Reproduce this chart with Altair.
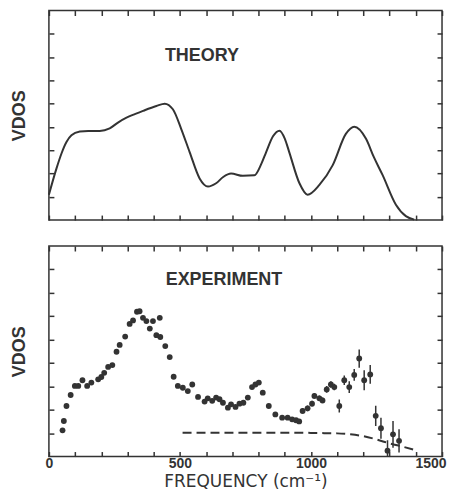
import altair as alt
import pandas as pd

# ---------------- data ----------------
theory_freq = [0, 29, 48, 67, 86, 118, 150, 194, 232, 265, 296, 330, 359, 410, 442, 473, 505, 537,
               575, 607, 638, 665, 695, 740, 784, 810, 829, 855, 880, 900, 917, 956, 987, 1032,
               1083, 1133, 1165, 1210, 1240, 1273, 1324, 1362, 1394]
theory_vdos = [1.09, 2.22, 2.86, 3.35, 3.64, 3.80, 3.83, 3.83, 3.94, 4.20, 4.40, 4.56, 4.69, 4.90,
               5.00, 4.76, 3.91, 2.92, 1.79, 1.44, 1.58, 1.85, 2.00, 1.90, 1.92, 2.40, 2.92, 3.60,
               3.84, 3.50, 2.92, 1.58, 1.09, 1.51, 2.36, 3.70, 4.01, 3.49, 2.70, 1.94, 0.66, 0.17, 0.02]

exp_freq = [52, 57, 67, 83, 99, 112, 128, 146, 162, 188, 200, 211, 226, 242, 258, 270, 291, 308,
            321, 336, 346, 359, 372, 385, 397, 410, 423, 425, 444, 461, 476, 492, 511, 530, 547,
            569, 594, 606, 623, 638, 651, 664, 683, 695, 712, 727, 742, 759, 775, 788, 801, 816,
            839, 864, 890, 911, 928, 943, 955, 968, 987, 1004, 1013, 1032, 1044, 1060, 1076,
            1089, 1108, 1127, 1146, 1165, 1184, 1203, 1226, 1247, 1267, 1292, 1313, 1336]
exp_vdos = [1.12, 1.52, 2.16, 2.63, 3.02, 3.02, 3.26, 3.02, 3.16, 3.30, 3.40, 3.58, 3.83, 3.91,
            4.48, 4.77, 5.13, 5.67, 5.82, 6.19, 6.21, 5.93, 5.79, 5.47, 5.79, 5.19, 5.93, 5.11,
            4.72, 4.25, 3.41, 3.02, 2.94, 2.80, 3.08, 2.55, 2.35, 2.49, 2.38, 2.52, 2.45, 2.30,
            2.09, 2.23, 2.12, 2.26, 2.30, 2.52, 2.97, 3.08, 3.16, 2.73, 2.16, 1.80, 1.66, 1.66,
            1.59, 1.55, 1.50, 1.95, 2.06, 2.26, 2.59, 2.49, 2.40, 2.87, 3.08, 2.97, 2.16, 3.26,
            2.97, 3.49, 4.19, 3.26, 3.51, 1.74, 1.21, 0.25, 0.95, 0.67]
exp_err = [0] * 59 + [0.12, 0.12, 0.12, 0.12, 0.12, 0.12, 0.14, 0.14, 0.14, 0.28, 0.20, 0.25,
                      0.25, 0.39, 0.43, 0.40, 0.43, 0.45, 0.45, 0.57, 0.50]

dash_freq = [510, 600, 700, 800, 900, 1000, 1050, 1100, 1150, 1200, 1250, 1300, 1350, 1390]
dash_vdos = [1.02, 1.02, 1.02, 1.02, 1.02, 1.01, 1.00, 0.99, 0.95, 0.87, 0.73, 0.56, 0.42, 0.30]

x_ticks = list(range(0, 1501, 100))
y_ticks = list(range(1, 9))

panel_labels = ["THEORY", "EXPERIMENT"]
label_freq = [584, 668]
label_vdos = [7.03, 7.53]

INK = "#333333"
X_SCALE = alt.Scale(domain=[0, 1500], nice=False, zero=False)
Y_SCALE = alt.Scale(domain=[0, 9], nice=False, zero=False)

theory = pd.DataFrame({"f": theory_freq, "v": theory_vdos})
exp = pd.DataFrame({"f": exp_freq, "v": exp_vdos, "e": exp_err})
exp["lo"] = exp["v"] - exp["e"]
exp["hi"] = exp["v"] + exp["e"]
errs = exp[exp["e"] > 0]
dash = pd.DataFrame({"f": dash_freq, "v": dash_vdos})


def common_axis(orient, values, **kw):
    return alt.Axis(orient=orient, values=values, ticks=True, tickSize=5, offset=-5,
                    tickColor=INK, tickWidth=1.5, domain=False, grid=False,
                    labelOverlap=False, **kw)


def x_bottom(with_labels):
    if with_labels:
        return common_axis("bottom", x_ticks, labels=True, format="d",
                           labelExpr="datum.value % 500 == 0 ? datum.label : ''",
                           labelFlush=True, labelFlushOffset=4,
                           labelFont="Liberation Sans", labelFontWeight="bold", labelFontSize=14,
                           labelColor=INK, labelPadding=0,
                           title="FREQUENCY  (cm\u207b\u00b9)", titleFont="DejaVu Sans",
                           titleFontWeight="normal", titleFontSize=17, titleColor=INK,
                           titlePadding=3)
    return common_axis("bottom", x_ticks, labels=False, title=None)


def y_left():
    return common_axis("left", y_ticks, labels=False, title="VDOS", titleFont="Liberation Sans",
                       titleFontWeight="bold", titleFontSize=18, titleColor=INK, titlePadding=20)


x_top = common_axis("top", x_ticks, labels=False, title=None)
y_right = common_axis("right", y_ticks, labels=False, title=None)


def label_layer(i):
    d = pd.DataFrame({"f": [label_freq[i]], "v": [label_vdos[i]], "t": [panel_labels[i]]})
    return alt.Chart(d).mark_text(font="Liberation Sans", fontWeight="bold", fontSize=18,
                                  color=INK).encode(
        x=alt.X("f:Q", scale=X_SCALE, axis=None),
        y=alt.Y("v:Q", scale=Y_SCALE, axis=None),
        text="t:N")


# ---------------- top panel: theory ----------------
t_line = alt.Chart(theory).mark_line(color=INK, strokeWidth=2, interpolate="monotone").encode(
    x=alt.X("f:Q", scale=X_SCALE, axis=x_bottom(False)),
    y=alt.Y("v:Q", scale=Y_SCALE, axis=y_left()))
t_ghost = alt.Chart(theory).mark_line(opacity=0).encode(
    x=alt.X("f:Q", scale=X_SCALE, axis=x_top),
    y=alt.Y("v:Q", scale=Y_SCALE, axis=y_right))
top = alt.layer(t_line, t_ghost, label_layer(0)).resolve_axis(
    x="independent", y="independent").properties(width=394, height=210)

# ---------------- bottom panel: experiment ----------------
e_pts = alt.Chart(exp).mark_circle(color=INK, opacity=1, size=34).encode(
    x=alt.X("f:Q", scale=X_SCALE, axis=x_bottom(True)),
    y=alt.Y("v:Q", scale=Y_SCALE, axis=y_left()))
e_err = alt.Chart(errs).mark_rule(color=INK, strokeWidth=1.5, clip=True).encode(
    x=alt.X("f:Q", scale=X_SCALE, axis=x_top),
    y=alt.Y("lo:Q", scale=Y_SCALE, axis=y_right),
    y2="hi:Q")
e_dash = alt.Chart(dash).mark_line(color=INK, strokeWidth=2, strokeDash=[9, 5],
                                   interpolate="monotone").encode(
    x=alt.X("f:Q", scale=X_SCALE, axis=None),
    y=alt.Y("v:Q", scale=Y_SCALE, axis=None))
bottom = alt.layer(e_pts, e_err, e_dash, label_layer(1)).resolve_axis(
    x="independent", y="independent").properties(width=394, height=211)

chart = alt.vconcat(top, bottom, spacing=19).properties(
    padding={"left": 1, "top": 0, "right": 5, "bottom": 0},
    background="white"
).configure_view(stroke=INK, strokeWidth=1.5)

chart.save("out.html", embed_options={"renderer": "svg", "actions": False})
